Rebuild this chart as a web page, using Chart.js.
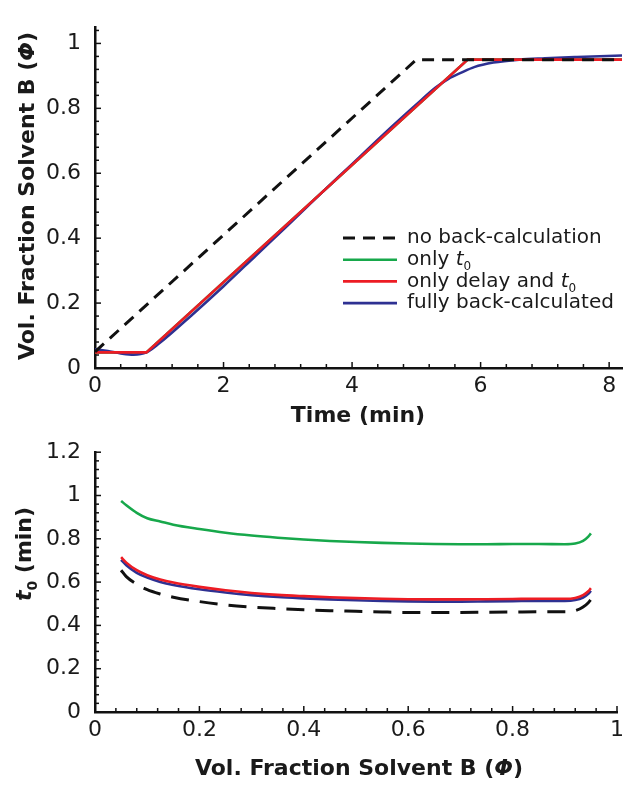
<!DOCTYPE html>
<html>
<head>
<meta charset="utf-8">
<script src="https://cdn.jsdelivr.net/npm/chart.js@4.4.1/dist/chart.umd.min.js"></script>
<style>
  html, body { margin: 0; padding: 0; background: #fff; }
  canvas { display: block; }
</style>
</head>
<body>
<canvas id="gradientChart" width="629" height="425"></canvas>
<canvas id="t0Chart" width="629" height="367"></canvas>
<script>
// Series names and colours (legend order)
const seriesLabels = ['no back-calculation', 'only t0', 'only delay and t0', 'fully back-calculated'];
const seriesColors = ['#111111', '#17a84b', '#ed1c24', '#2e3192'];

// Top panel: gradient profile, Vol. fraction B vs time (min)
const timeNoBack = [0, 5, 8.2];
const phiNoBack = [0.05, 0.95, 0.95];
const timeOnlyT0 = [0, 0.8, 5.8, 8.2];
const phiOnlyT0 = [0.048, 0.048, 0.95, 0.95];
const timeDelayT0 = [0, 0.8, 5.8, 8.2];
const phiDelayT0 = [0.048, 0.048, 0.95, 0.95];
const timeFull = [0, 0.2, 0.4, 0.6, 0.8, 1.0, 1.5, 2.0, 2.5, 3.0, 3.5, 4.0, 4.5, 5.0, 5.3, 5.5, 5.7, 5.9, 6.2, 6.6, 7.0, 7.5, 8.2];
const phiFull = [0.058, 0.052, 0.045, 0.041, 0.048, 0.076, 0.162, 0.252, 0.346, 0.440, 0.535, 0.628, 0.722, 0.812, 0.864, 0.891, 0.910, 0.927, 0.941, 0.950, 0.954, 0.958, 0.963];
const timeTicks = [0, 2, 4, 6, 8];
const phiTicks = [0, 0.2, 0.4, 0.6, 0.8, 1];

// Bottom panel: t0 (min) vs vol. fraction B
const phiGrid = [0.05, 0.06, 0.08, 0.1, 0.125, 0.15, 0.2, 0.25, 0.3, 0.35, 0.4, 0.45, 0.5, 0.55, 0.6, 0.65, 0.7, 0.75, 0.8, 0.85, 0.9, 0.92, 0.935, 0.945, 0.95];
const t0NoBack = [0.655, 0.625, 0.59, 0.565, 0.545, 0.53, 0.51, 0.495, 0.485, 0.478, 0.472, 0.468, 0.465, 0.462, 0.46, 0.46, 0.46, 0.461, 0.462, 0.463, 0.463, 0.468, 0.485, 0.505, 0.52];
const t0OnlyT0 = [0.975, 0.955, 0.92, 0.895, 0.88, 0.865, 0.845, 0.828, 0.815, 0.805, 0.797, 0.79, 0.785, 0.781, 0.778, 0.776, 0.775, 0.775, 0.776, 0.776, 0.775, 0.778, 0.79, 0.81, 0.825];
const t0DelayT0 = [0.715, 0.69, 0.655, 0.632, 0.612, 0.598, 0.578, 0.562, 0.55, 0.541, 0.535, 0.53, 0.526, 0.523, 0.521, 0.52, 0.52, 0.521, 0.522, 0.523, 0.523, 0.527, 0.54, 0.558, 0.572];
const t0Full = [0.703, 0.678, 0.643, 0.621, 0.601, 0.587, 0.567, 0.552, 0.54, 0.531, 0.525, 0.52, 0.516, 0.513, 0.511, 0.51, 0.51, 0.511, 0.512, 0.513, 0.513, 0.517, 0.529, 0.546, 0.56];
const fractionTicks = [0, 0.2, 0.4, 0.6, 0.8, 1];
const t0Ticks = [0, 0.2, 0.4, 0.6, 0.8, 1, 1.2];

const FONT = 'DejaVu Sans';
const INK = '#1a1a1a';

function points(xs, ys) {
    return xs.map((x, i) => ({ x: x, y: ys[i] }));
}

// One dataset per series; order puts black dashed on top, green at the bottom
function buildDatasets(series, dash) {
    const drawOrder = [0, 3, 1, 2];
    return series.map((data, i) => ({
        label: seriesLabels[i],
        data: data.pts,
        borderColor: seriesColors[i],
        borderWidth: i === 0 ? 3 : 2.6,
        borderDash: i === 0 ? dash : [],
        pointRadius: 0,
        fill: false,
        tension: 0,
        cubicInterpolationMode: data.smooth ? 'monotone' : 'default',
        order: drawOrder[i]
    }));
}

function linearAxis(min, max, ticks, size, pad) {
    return {
        type: 'linear',
        min: min,
        max: max,
        grid: { display: false, drawTicks: false },
        border: { display: true, color: '#111', width: 2.5 },
        afterBuildTicks: (s) => { s.ticks = ticks.map((v) => ({ value: v })); },
        ticks: {
            color: INK,
            font: { family: FONT, size: 22 },
            padding: pad,
            maxRotation: 0,
            autoSkip: false,
            callback: (v) => String(v)
        },
        afterFit: (s) => {
            if (s.isHorizontal()) s.height = size; else s.width = size;
        }
    };
}

// Mixed-style text: segments of {t, f, sub}
function richWidth(ctx, segs, size) {
    let w = 0;
    segs.forEach((s) => {
        ctx.font = (s.f || '') + ' ' + (s.sub ? Math.round(size * 0.62) : size) + 'px "' + FONT + '"';
        w += ctx.measureText(s.t).width;
    });
    return w;
}

function drawRich(ctx, segs, x, y, size, align) {
    let cx = align === 'center' ? x - richWidth(ctx, segs, size) / 2 : x;
    ctx.textBaseline = 'middle';
    ctx.textAlign = 'left';
    segs.forEach((s) => {
        const fs = s.sub ? Math.round(size * 0.62) : size;
        ctx.font = (s.f || '') + ' ' + fs + 'px "' + FONT + '"';
        ctx.fillText(s.t, cx, s.sub ? y + size * 0.38 : y);
        cx += ctx.measureText(s.t).width;
    });
}

// "only t0" -> plain text + italic t + subscript 0
function labelSegments(label) {
    if (label.endsWith('t0')) {
        return [{ t: label.slice(0, -2) }, { t: 't', f: 'italic' }, { t: '0', sub: true }];
    }
    return [{ t: label }];
}

// Inward major/minor ticks, axis titles and legend
const axisDecor = {
    id: 'axisDecor',
    afterDatasetsDraw(chart, args, opts) {
        const ctx = chart.ctx;
        const area = chart.chartArea;
        ctx.save();
        ctx.strokeStyle = '#111';
        ctx.lineWidth = 1.5;
        Object.values(chart.scales).forEach((scale) => {
            const majors = scale.ticks.map((t) => t.value);
            const step = (majors[1] - majors[0]) / 5;
            for (let k = 0; majors[0] + k * step <= scale.max + 1e-9; k++) {
                const v = majors[0] + k * step;
                const len = k % 5 === 0 ? 6 : 4;
                const p = scale.getPixelForValue(v);
                ctx.beginPath();
                if (scale.isHorizontal()) {
                    ctx.moveTo(p, area.bottom);
                    ctx.lineTo(p, area.bottom - len);
                } else {
                    ctx.moveTo(area.left, p);
                    ctx.lineTo(area.left + len, p);
                }
                ctx.stroke();
            }
        });

        ctx.fillStyle = INK;
        drawRich(ctx, opts.xTitle, opts.xTitlePos[0], opts.xTitlePos[1], 22, 'center');
        ctx.save();
        ctx.translate(opts.yTitlePos[0], opts.yTitlePos[1]);
        ctx.rotate(-Math.PI / 2);
        drawRich(ctx, opts.yTitle, 0, 0, 22, 'center');
        ctx.restore();

        if (opts.legend) {
            const lg = opts.legend;
            chart.data.datasets.forEach((ds, i) => {
                const y = lg.y + i * lg.rowH;
                ctx.beginPath();
                ctx.strokeStyle = ds.borderColor;
                ctx.lineWidth = ds.borderWidth;
                ctx.setLineDash(ds.borderDash || []);
                ctx.moveTo(lg.x, y);
                ctx.lineTo(lg.x + lg.lineLen, y);
                ctx.stroke();
                ctx.setLineDash([]);
                ctx.fillStyle = INK;
                drawRich(ctx, labelSegments(ds.label), lg.x + lg.lineLen + 10, y, 20, 'left');
            });
        }
        ctx.restore();
    }
};

const phiTitle = [{ t: 'Vol. Fraction Solvent B (', f: 'bold' }, { t: 'Φ', f: 'italic bold' }, { t: ')', f: 'bold' }];

// Top chart
new Chart(document.getElementById('gradientChart').getContext('2d'), {
    type: 'line',
    data: {
        datasets: buildDatasets([
            { pts: points(timeNoBack, phiNoBack) },
            { pts: points(timeOnlyT0, phiOnlyT0) },
            { pts: points(timeDelayT0, phiDelayT0) },
            { pts: points(timeFull, phiFull), smooth: true }
        ], [12, 8])
    },
    options: {
        responsive: false,
        animation: false,
        layout: { autoPadding: false, padding: { top: 9, right: 7, left: 0, bottom: 0 } },
        scales: {
            x: linearAxis(0, 8.2, timeTicks, 57, 5),
            y: linearAxis(0, 1.05, phiTicks, 95, 14)
        },
        plugins: {
            legend: { display: false },
            tooltip: { enabled: false },
            axisDecor: {
                xTitle: [{ t: 'Time (min)', f: 'bold' }],
                xTitlePos: [358, 416],
                yTitle: phiTitle,
                yTitlePos: [28, 196],
                legend: { x: 343, y: 238, rowH: 21.7, lineLen: 54 }
            }
        }
    },
    plugins: [axisDecor]
});

// Bottom chart
new Chart(document.getElementById('t0Chart').getContext('2d'), {
    type: 'line',
    data: {
        datasets: buildDatasets([
            { pts: points(phiGrid, t0NoBack), smooth: true },
            { pts: points(phiGrid, t0OnlyT0), smooth: true },
            { pts: points(phiGrid, t0DelayT0), smooth: true },
            { pts: points(phiGrid, t0Full), smooth: true }
        ], [18, 11])
    },
    options: {
        responsive: false,
        animation: false,
        layout: { autoPadding: false, padding: { top: 17, right: 6, left: 0, bottom: 0 } },
        scales: {
            x: linearAxis(0, 1, fractionTicks, 80, 5),
            y: linearAxis(0, 1.2, t0Ticks, 95, 14)
        },
        plugins: {
            legend: { display: false },
            tooltip: { enabled: false },
            axisDecor: {
                xTitle: phiTitle,
                xTitlePos: [359, 344],
                yTitle: [{ t: 't', f: 'italic bold' }, { t: '0', f: 'bold', sub: true }, { t: ' (min)', f: 'bold' }],
                yTitlePos: [25, 129]
            }
        }
    },
    plugins: [axisDecor]
});
</script>
</body>
</html>
